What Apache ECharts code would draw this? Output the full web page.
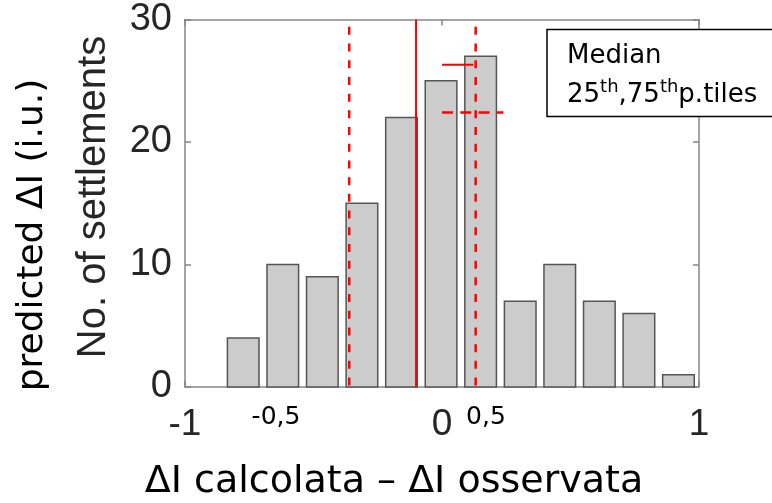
<!DOCTYPE html>
<html><head><meta charset="utf-8">
<script src="https://cdn.jsdelivr.net/npm/echarts@6/dist/echarts.min.js"></script>
<style>html,body{margin:0;padding:0;background:#fff}#c{width:772px;height:503px}</style>
</head><body><div id="c"></div>
<script>
// Histogram data (bin centres on the x axis, counts)
const binCenters = [-0.7735, -0.6195, -0.4656, -0.3116, -0.1576, -0.0037, 0.1503, 0.3043, 0.4582, 0.6122, 0.7662, 0.9201];
const counts = [4, 10, 9, 15, 22, 25, 27, 7, 10, 7, 6, 1];
const binWidth = 0.123;
// Statistics
const median = -0.101;
const p25 = -0.361;
const p75 = 0.131;
// Key lines drawn inside the plot
const medianKey = [[0, 26.3], [0.122, 26.3]];
const pctKey = [[0, 22.4], [0.239, 22.4]];
// Axis ranges / ticks
const xMin = -1, xMax = 1, xStep = 1;
const yMin = 0, yMax = 30, yStep = 10;
const dashTop = 29.4;
// Texts
const xTitle = 'ΔI calcolata – ΔI osservata';
const yTitle = 'No. of settlements';
const yTitle2 = 'predicted ΔI (i.u.)';
const extraLabels = ['-0,5', '0,5'];

const chart = echarts.init(document.getElementById('c'), null, {renderer: 'canvas'});
const axisGray = '#868686';
const tickFont = 'Liberation Sans';
const baseAxis = {
  type: 'value', splitLine: {show: false},
  axisLine: {show: true, onZero: false, lineStyle: {color: axisGray, width: 1.5}},
  axisTick: {show: true, inside: true, length: 6, lineStyle: {color: axisGray, width: 1.5}}
};
const option = {
  animation: false,
  backgroundColor: '#ffffff',
  grid: {left: 185, top: 19.5, right: 73, bottom: 116, containLabel: false},
  xAxis: [
    Object.assign({}, baseAxis, {position: 'bottom', min: xMin, max: xMax, interval: xStep,
      axisLabel: {fontSize: 37, fontFamily: tickFont, color: '#262626', margin: 19}}),
    Object.assign({}, baseAxis, {position: 'top', min: xMin, max: xMax, interval: xStep,
      axisLabel: {show: false}})
  ],
  yAxis: [
    Object.assign({}, baseAxis, {position: 'left', min: yMin, max: yMax, interval: yStep,
      axisLabel: {fontSize: 38, fontFamily: tickFont, color: '#262626', margin: 13}}),
    Object.assign({}, baseAxis, {position: 'right', min: yMin, max: yMax, interval: yStep,
      axisLabel: {show: false}})
  ],
  series: [
    {
      type: 'custom', z: 2,
      data: binCenters.map((c, i) => [c, counts[i]]),
      renderItem: function (params, api) {
        const c = api.value(0), v = api.value(1);
        const p0 = api.coord([c - binWidth / 2, v]);
        const p1 = api.coord([c + binWidth / 2, 0]);
        return {type: 'rect',
          shape: {x: p0[0], y: p0[1], width: p1[0] - p0[0], height: p1[1] - p0[1]},
          style: {fill: '#cccccc', stroke: '#555555', lineWidth: 1.5}};
      }
    },
    {type: 'line', z: 5, symbol: 'none', data: [[median, yMax], [median, yMin]],
      lineStyle: {color: '#ff0000', width: 2}},
    {type: 'line', z: 5, symbol: 'none', data: [[p25, dashTop], [p25, yMin]],
      lineStyle: {color: '#ff0000', width: 2.5, type: [8, 8.7]}},
    {type: 'line', z: 5, symbol: 'none', data: [[p75, dashTop], [p75, yMin]],
      lineStyle: {color: '#ff0000', width: 2.5, type: [8, 8.7]}},
    {type: 'line', z: 5, symbol: 'none', data: medianKey,
      lineStyle: {color: '#ff0000', width: 2}},
    {type: 'line', z: 5, symbol: 'none', data: pctKey,
      lineStyle: {color: '#ff0000', width: 2.5, type: [11, 7.3]}}
  ],
  graphic: [
    {type: 'rect', z: 100, shape: {x: 547, y: 29.5, width: 240, height: 87},
      style: {fill: '#ffffff', stroke: '#000000', lineWidth: 1.5}},
    {type: 'text', z: 101, x: 567, y: 56,
      style: {text: 'Median', font: '26px "DejaVu Sans"', fill: '#000', align: 'left', verticalAlign: 'middle'}},
    {type: 'text', z: 101, x: 567, y: 78,
      style: {text: '{m|25}{s|th}{m|,75}{s|th}{m|p.tiles}', align: 'left', verticalAlign: 'top',
        rich: {
          m: {fontSize: 26, fontFamily: 'DejaVu Sans', fill: '#000', color: '#000', lineHeight: 30, verticalAlign: 'bottom'},
          s: {fontSize: 18, fontFamily: 'DejaVu Sans', fill: '#000', color: '#000', lineHeight: 30, verticalAlign: 'top'}
        }}},
    {type: 'text', x: 94, y: 197, rotation: Math.PI / 2,
      style: {text: yTitle, font: '40px "Liberation Sans"', fill: '#262626', align: 'center', verticalAlign: 'middle'}},
    {type: 'text', x: 33, y: 235, rotation: Math.PI / 2,
      style: {text: yTitle2, font: '36px "DejaVu Sans"', fill: '#000', align: 'center', verticalAlign: 'middle'}},
    {type: 'text', x: 394, y: 482,
      style: {text: xTitle, font: '38px "DejaVu Sans"', fill: '#000', align: 'center', verticalAlign: 'middle'}},
    {type: 'text', x: 276, y: 417,
      style: {text: extraLabels[0], font: '25px "DejaVu Sans"', fill: '#000', align: 'center', verticalAlign: 'middle'}},
    {type: 'text', x: 486, y: 417,
      style: {text: extraLabels[1], font: '25px "DejaVu Sans"', fill: '#000', align: 'center', verticalAlign: 'middle'}}
  ]
};
chart.setOption(option);
</script>
</body></html>
